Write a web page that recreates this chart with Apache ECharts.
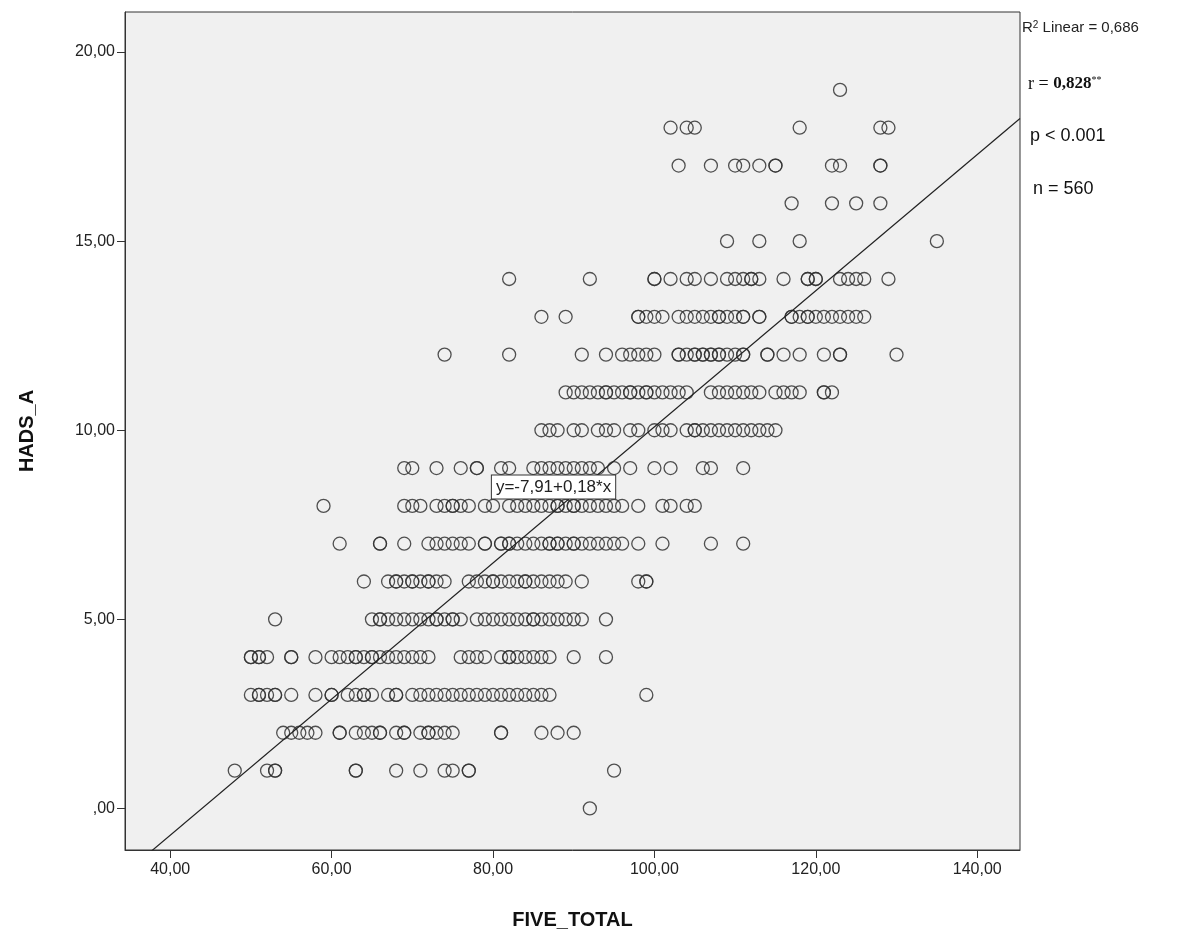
<!DOCTYPE html>
<html><head><meta charset="utf-8">
<script src="https://cdn.jsdelivr.net/npm/echarts@6/dist/echarts.min.js"></script>
<style>html,body{margin:0;padding:0;background:#fff}#c{width:1195px;height:940px}</style>
</head><body><div id="c"></div>
<script>
// FIVE_TOTAL values per HADS_A level
const row0=[92];
const row1=[48,52,53,53,63,63,68,71,74,75,77,77,95];
const row2=[54,55,56,57,58,61,61,63,64,65,66,66,68,69,69,71,72,72,73,74,75,81,81,86,88,90];
const row3=[50,51,51,52,53,53,55,58,60,60,62,63,64,64,65,67,68,68,70,71,72,73,74,75,76,77,78,79,80,81,82,83,84,85,86,87,99];
const row4=[50,50,51,51,52,55,55,58,60,61,62,63,63,64,65,65,66,67,68,69,70,71,72,76,77,78,79,81,82,82,83,84,85,86,87,90,94];
const row5=[53,65,66,66,67,68,69,70,71,72,73,73,74,75,75,76,78,79,80,81,82,83,84,85,85,86,87,88,89,90,91,94];
const row6=[64,67,68,68,69,70,70,71,72,72,73,74,77,78,79,80,80,81,82,83,84,84,85,86,87,88,89,91,98,99,99];
const row7=[61,66,66,69,72,73,74,75,76,77,79,79,81,81,82,82,83,84,85,86,87,87,88,88,89,90,90,91,92,93,94,95,96,98,101,107,111];
const row8=[59,69,70,71,73,74,75,75,76,77,79,80,82,83,84,85,86,87,88,88,89,90,90,91,92,93,94,95,96,98,101,102,104,105];
const row9=[69,70,73,76,78,78,81,82,85,86,87,88,89,90,91,92,93,95,97,100,102,106,107,111];
const row10=[86,87,88,90,91,93,94,95,97,98,100,101,102,104,105,105,106,107,108,109,110,111,112,113,114,115];
const row11=[89,90,91,92,93,94,94,95,96,97,97,98,99,99,100,101,102,103,104,107,108,109,110,111,112,113,115,116,117,118,121,121,122];
const row12=[74,82,91,94,96,97,98,99,100,103,103,104,105,105,106,106,107,107,108,108,109,110,111,111,114,114,116,118,121,123,123,130];
const row13=[86,89,98,98,99,100,101,103,104,105,106,107,108,108,109,110,111,111,113,113,117,117,118,119,119,120,121,122,123,124,125,126];
const row14=[82,92,100,100,102,104,105,107,109,110,111,112,112,113,116,119,119,120,120,123,124,125,126,129];
const row15=[109,113,118,135];
const row16=[117,122,125,128];
const row17=[103,107,110,111,113,115,115,122,123,128,128];
const row18=[102,104,105,118,128,129];
const row19=[123];
const rows=[row0,row1,row2,row3,row4,row5,row6,row7,row8,row9,row10,row11,row12,row13,row14,row15,row16,row17,row18,row19];
const fitA=-7.91, fitB=0.18;
const xTicks=[40,60,80,100,120,140];
const yTicks=[0,5,10,15,20];

const pts=[];
rows.forEach((r,y)=>r.forEach(x=>pts.push([x,y])));
const fmt=v=>(v===0?',00':v.toFixed(2).replace('.',','));
const xMin=34.4,xMax=145.3;
const chart=echarts.init(document.getElementById('c'));
chart.setOption({
  animation:false,
  grid:{left:125,right:175,top:12,bottom:90,show:true,backgroundColor:'#f0f0f0',borderColor:'#333',borderWidth:1},
  xAxis:{type:'value',min:xMin,max:xMax,name:'FIVE_TOTAL',nameLocation:'middle',nameGap:60,
    nameTextStyle:{fontFamily:'Liberation Sans',fontWeight:'bold',fontSize:20,color:'#111'},
    axisLine:{onZero:false,lineStyle:{color:'#333'}},splitLine:{show:false},
    axisTick:{customValues:xTicks,length:8,lineStyle:{color:'#333'}},
    axisLabel:{customValues:xTicks,formatter:fmt,fontFamily:'Liberation Sans',fontSize:16,color:'#222',margin:12}},
  yAxis:{type:'value',min:-1.1,max:21.06,name:'HADS_A',nameLocation:'middle',nameGap:88,
    nameTextStyle:{fontFamily:'Liberation Sans',fontWeight:'bold',fontSize:20,color:'#111'},
    axisLine:{onZero:false,lineStyle:{color:'#333'}},splitLine:{show:false},
    axisTick:{customValues:yTicks,length:8,lineStyle:{color:'#333'}},
    axisLabel:{customValues:yTicks,formatter:fmt,fontFamily:'Liberation Sans',fontSize:16,color:'#222',margin:10}},
  series:[
    {type:'scatter',data:pts,symbol:'circle',symbolSize:13,
      itemStyle:{color:'rgba(0,0,0,0)',borderColor:'#333',borderWidth:1.3,opacity:0.85}},
    {type:'line',data:[[xMin,fitA+fitB*xMin],[xMax,fitA+fitB*xMax]],symbol:'none',
      lineStyle:{color:'#222',width:1.2},
      markPoint:{symbol:'rect',symbolSize:0,data:[{coord:[87.5,8.5],value:'y=-7,91+0,18*x'}],
        label:{show:true,formatter:'y=-7,91+0,18*x',fontFamily:'Liberation Sans',fontSize:17,color:'#222',
          backgroundColor:'#fff',borderColor:'#333',borderWidth:1,padding:[3,4]}}}
  ],
  graphic:[
    {type:'text',left:1022,top:20,style:{rich:{s:{fontSize:10,verticalAlign:'top',fontFamily:'Liberation Sans',fill:'#222'}},text:'R{s|2} Linear = 0,686',font:'15px Liberation Sans',fill:'#222'}},
    {type:'text',left:1028,top:75,style:{rich:{n:{fontSize:18,fontFamily:'Liberation Serif',fill:'#111'},b:{fontSize:17,fontWeight:'bold',fontFamily:'Liberation Serif',fill:'#111'},s:{fontSize:10,fontFamily:'Liberation Serif',fill:'#111',verticalAlign:'top'}},text:'{n|r = }{b|0,828}{s|**}'}},
    {type:'text',left:1030,top:127,style:{text:'p < 0.001',font:'18px Liberation Sans',fill:'#111'}},
    {type:'text',left:1033,top:180,style:{text:'n = 560',font:'18px Liberation Sans',fill:'#111'}}
  ]
});
</script></body></html>
